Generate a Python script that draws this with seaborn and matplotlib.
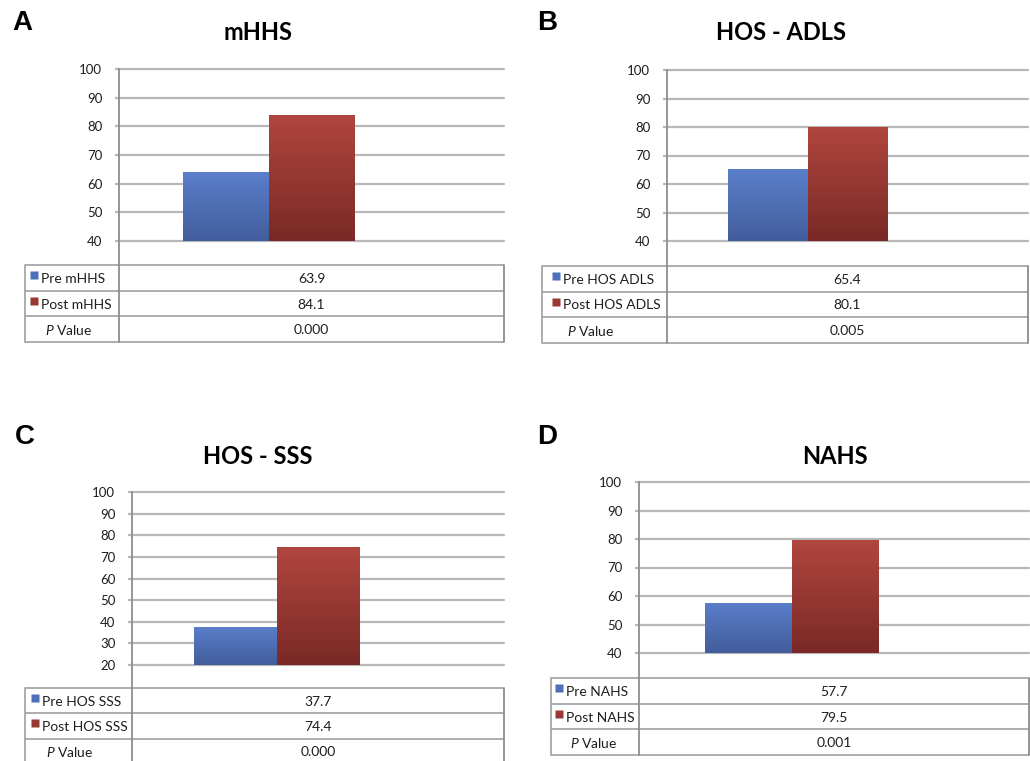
import numpy as np
import pandas as pd
import matplotlib.pyplot as plt
import seaborn as sns
from matplotlib.colors import LinearSegmentedColormap

# data
letters = ["A", "B", "C", "D"]
titles = ["mHHS", "HOS - ADLS", "HOS - SSS", "NAHS"]
pre_labels = ["Pre mHHS", "Pre HOS ADLS", "Pre HOS SSS", "Pre NAHS"]
post_labels = ["Post mHHS", "Post HOS ADLS", "Post HOS SSS", "Post NAHS"]
pre_values = [63.9, 65.4, 37.7, 57.7]
post_values = [84.1, 80.1, 74.4, 79.5]
p_values = ["0.000", "0.005", "0.000", "0.001"]
y_min = [40, 40, 20, 40]
y_max = [100, 100, 100, 100]

# panel geometry in pixels (figure is 1030 x 761)
layout = [
    dict(ax_l=119, ax_r=504, ax_t=69, ax_b=241, bar_l=183, bar_r=354, tab_l=25, tab_t=265, row=25.7, key=6, title=(258, 33), letter=(12, 23)),
    dict(ax_l=667, ax_r=1028, ax_t=70, ax_b=241, bar_l=728, bar_r=888, tab_l=542, tab_t=266, row=25.5, key=11, title=(781, 33), letter=(537, 23)),
    dict(ax_l=132, ax_r=504, ax_t=492, ax_b=665, bar_l=194, bar_r=359, tab_l=25, tab_t=688, row=25.3, key=7, title=(258, 456), letter=(15, 437)),
    dict(ax_l=639, ax_r=1029, ax_t=482, ax_b=653, bar_l=705, bar_r=878, tab_l=551, tab_t=678, row=25.7, key=5, title=(835, 456), letter=(537, 437)),
]

blue = "#4f6fb8"
red = "#9a3833"
blue_grad = ["#425d9c", "#5b7fcb"]   # bottom, top
red_grad = ["#7a2926", "#b0463f"]
grid_col = "#b8b8b8"
axis_col = "#8e8e8e"
text_col = "#1e1e1e"

sns.set_theme(style="white")
plt.rcParams["font.family"] = ["Lato", "DejaVu Sans"]
plt.rcParams["mathtext.fontset"] = "custom"
plt.rcParams["mathtext.it"] = "Lato:italic"
plt.rcParams["mathtext.rm"] = "Lato"

W, H = 1030, 761
fig = plt.figure(figsize=(W / 100, H / 100), dpi=100)

# overlay axes in pixel coordinates for tables, titles and panel letters
ov = fig.add_axes([0, 0, 1, 1], zorder=0)
ov.set_xlim(0, W)
ov.set_ylim(H, 0)
ov.axis("off")

for i, L in enumerate(layout):
    ax = fig.add_axes([L["ax_l"] / W, 1 - L["ax_b"] / H,
                       (L["ax_r"] - L["ax_l"]) / W, (L["ax_b"] - L["ax_t"]) / H], zorder=2)
    ax.set_facecolor("none")

    df = pd.DataFrame({
        "measure": [titles[i], titles[i]],
        "time": ["Pre", "Post"],
        "score": [pre_values[i], post_values[i]],
    })
    sns.barplot(data=df, x="measure", y="score", hue="time", hue_order=["Pre", "Post"],
                palette=[blue, red], saturation=1, errorbar=None, legend=False,
                width=0.8, linewidth=0, edgecolor="none", ax=ax)

    # vertical gradient fill like the original spreadsheet chart
    for cont, grad in zip(ax.containers, [blue_grad, red_grad]):
        cmap = LinearSegmentedColormap.from_list("g", grad)
        for bar in cont:
            x0, w, top = bar.get_x(), bar.get_width(), bar.get_height()
            img = ax.imshow(np.linspace(0, 1, 256).reshape(-1, 1), cmap=cmap, origin="lower",
                            extent=[x0, x0 + w, y_min[i], top], aspect="auto", zorder=2)
            img.set_clip_path(bar)

    # bars span -0.4..0.4; place them where they sit in the original
    s = (L["bar_r"] - L["bar_l"]) / 0.8
    ax.set_xlim(-0.4 - (L["bar_l"] - L["ax_l"]) / s, 0.4 + (L["ax_r"] - L["bar_r"]) / s)
    ax.set_ylim(y_min[i], y_max[i])
    ax.set_yticks(np.arange(y_min[i], y_max[i] + 1, 10))
    ax.set_xticks([])
    ax.set_xlabel("")
    ax.set_ylabel("")
    ax.set_axisbelow(True)
    ax.grid(axis="y", color=grid_col, lw=1.6)
    for gl in ax.get_ygridlines():
        gl.set_clip_on(False)
    for sp in ["top", "right", "bottom"]:
        ax.spines[sp].set_visible(False)
    ax.spines["left"].set_color(axis_col)
    ax.spines["left"].set_linewidth(1.3)
    ax.tick_params(axis="y", left=True, length=3, width=1.6, color=grid_col, pad=9,
                   labelsize=9.5, labelcolor=text_col)

    # data table under the chart
    rows = [(pre_labels[i], f"{pre_values[i]}", blue),
            (post_labels[i], f"{post_values[i]}", red),
            ("$P$ Value", p_values[i], None)]
    t_top = L["tab_t"]
    t_bot = t_top + 3 * L["row"]
    for k in range(4):
        yk = t_top + k * L["row"]
        ov.plot([L["tab_l"], L["ax_r"]], [yk, yk], color="#a0a0a0", lw=1.2, solid_capstyle="butt")
    ov.plot([L["tab_l"], L["tab_l"]], [t_top, t_bot], color="#a0a0a0", lw=1.2)
    ov.plot([L["ax_r"], L["ax_r"]], [t_top, t_bot], color="#8c8c8c", lw=1.3)
    ov.plot([L["ax_l"], L["ax_l"]], [L["ax_b"], t_bot], color=axis_col, lw=1.3)

    key_x = L["tab_l"] + L["key"]
    val_x = (L["ax_l"] + L["ax_r"]) / 2
    for k, (lab, val, col) in enumerate(rows):
        yc = t_top + (k + 0.5) * L["row"]
        if col is not None:
            ov.plot([key_x + 3], [yc - 2.5], marker="s", ms=5.2, color=col, mec="none")
            ov.text(key_x + 10, yc, lab, ha="left", va="center_baseline", fontsize=10, color=text_col)
        else:
            ov.text(key_x + 14, yc, lab, ha="left", va="center_baseline", fontsize=10, color=text_col)
        ov.text(val_x, yc, val, ha="center", va="center_baseline", fontsize=10, color=text_col)

    ov.text(*L["title"], titles[i], ha="center", va="center", fontsize=17,
            fontweight="bold", color="black")
    ov.text(*L["letter"], letters[i], ha="left", va="center", fontsize=20,
            fontweight="bold", family="Liberation Sans", color="black")

fig.savefig("out.png", dpi=100)
